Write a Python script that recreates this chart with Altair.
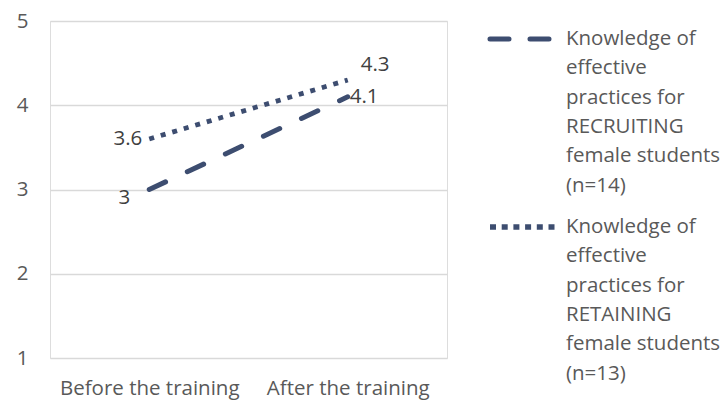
import altair as alt
import pandas as pd

categories = ["Before the training", "After the training"]
series_names = [
    "Knowledge of effective practices for RECRUITING female students (n=14)",
    "Knowledge of effective practices for RETAINING female students (n=13)",
]
legend_lines = [
    "Knowledge of\neffective\npractices for\nRECRUITING\nfemale students\n(n=14)",
    "Knowledge of\neffective\npractices for\nRETAINING\nfemale students\n(n=13)",
]
recruiting = [3.0, 4.1]
retaining = [3.6, 4.3]

rows = []
for c, v in zip(categories, recruiting):
    rows.append({"cat": c, "series": series_names[0], "value": v})
for c, v in zip(categories, retaining):
    rows.append({"cat": c, "series": series_names[1], "value": v})
df = pd.DataFrame(rows)
leg = pd.DataFrame({"series": series_names, "label": legend_lines})

COLOR = "#3D4D70"
FONT = "Open Sans"
FS = 20.5

x = alt.X("cat:N", sort=categories, title=None,
          scale=alt.Scale(type="point", padding=0.5),
          axis=alt.Axis(labelAngle=0, labelPadding=20, ticks=False, domain=False,
                        labelFontSize=FS, labelFont=FONT, labelColor="#595959", grid=False))
y = alt.Y("value:Q", title=None,
          scale=alt.Scale(domain=[1, 5], nice=False, zero=False),
          axis=alt.Axis(values=[1, 2, 3, 4, 5], format="d", ticks=False, domain=False,
                        labelPadding=22,
                        labelFontSize=FS, labelFont=FONT, labelColor="#595959",
                        grid=True, gridColor="#D9D9D9", gridWidth=1.3))

base = alt.Chart(df)

line1 = base.transform_filter(alt.datum.series == series_names[0]).mark_line(
    color=COLOR, strokeWidth=5, strokeDash=[18, 24], strokeCap="round"
).encode(x=x, y=y)
line2 = base.transform_filter(alt.datum.series == series_names[1]).mark_line(
    color=COLOR, strokeWidth=4.8, strokeDash=[5, 7], strokeCap="butt"
).encode(x=x, y=y)


def lab(series, cat, dx, dy, align):
    return base.transform_filter(
        (alt.datum.series == series) & (alt.datum.cat == cat)
    ).mark_text(align=align, baseline="middle", dx=dx, dy=dy, font=FONT,
                fontSize=FS, color="#404040").encode(
        x=alt.X("cat:N", sort=categories, scale=alt.Scale(type="point", padding=0.5)),
        y=alt.Y("value:Q"),
        text=alt.Text("value:Q", format="~g"),
    )


labels = [
    lab(series_names[0], categories[0], -19, 8, "right"),
    lab(series_names[0], categories[1], 2, 0, "left"),
    lab(series_names[1], categories[0], -7, 0, "right"),
    lab(series_names[1], categories[1], 13, -15, "left"),
]

ly = alt.Y("series:N", sort=series_names,
           scale=alt.Scale(type="point", domain=series_names, range=[18, 206], padding=0),
           axis=None)
lbase = alt.Chart(leg)
leg1 = lbase.transform_filter(alt.datum.series == series_names[0]).mark_rule(
    color=COLOR, strokeWidth=5, strokeDash=[19, 21], strokeCap="round"
).encode(x=alt.value(440), x2=alt.value(501), y=ly)
leg2 = lbase.transform_filter(alt.datum.series == series_names[1]).mark_rule(
    color=COLOR, strokeWidth=5.5, strokeDash=[6, 5.7], strokeCap="butt"
).encode(x=alt.value(440), x2=alt.value(505), y=ly)
legtext = lbase.mark_text(align="left", baseline="top", lineBreak="\n", lineHeight=29.3,
                          dy=-10, font=FONT, fontSize=FS, color="#595959").encode(
    x=alt.value(516), y=ly, text="label:N")

main = alt.layer(line1, line2, *labels)
legend = alt.layer(leg1, leg2, legtext)

chart = alt.layer(main, legend).resolve_scale(y="independent", x="independent").properties(
    width=397, height=337,
    autosize=alt.AutoSizeParams(type="none"),
    padding={"left": 50, "top": 21, "right": 278, "bottom": 43},
).configure_view(stroke=None).configure(background="white")

chart.save("out.html", embed_options={"renderer": "svg", "actions": False})
